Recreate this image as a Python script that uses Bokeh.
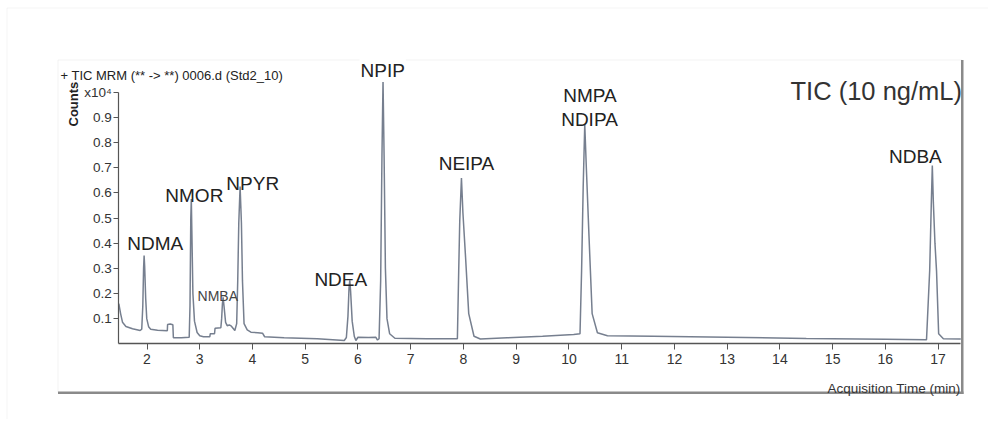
import math
from bokeh.plotting import figure
from bokeh.models import Range1d, FixedTicker, Label, BoxAnnotation
from bokeh.embed import file_html
from bokeh.resources import INLINE

# ---------------- data (counts in units of x10^4) ----------------
time_min = [1.465, 1.50, 1.535, 1.60, 1.725, 1.87, 1.90, 1.92, 1.935, 1.945, 1.955, 1.975,
            1.995, 2.03, 2.07, 2.20, 2.385, 2.39, 2.44, 2.49, 2.50, 2.65, 2.80, 2.815,
            2.83, 2.84, 2.85, 2.87, 2.90, 2.95, 3.00, 3.07, 3.19, 3.20, 3.28, 3.29,
            3.40, 3.415, 3.43, 3.443, 3.46, 3.49, 3.52, 3.56, 3.60, 3.665, 3.70, 3.72,
            3.74, 3.765, 3.79, 3.81, 3.84, 3.90, 3.97, 4.10, 4.19, 4.23, 4.60, 5.23,
            5.74, 5.78, 5.81, 5.83, 5.845, 5.86, 5.89, 5.93, 5.96, 6.00, 6.20, 6.34,
            6.37, 6.40, 6.43, 6.455, 6.475, 6.495, 6.52, 6.55, 6.60, 6.70, 7.30, 7.885,
            7.91, 7.93, 7.962, 7.99, 8.04, 8.10, 8.20, 8.32, 8.83, 9.50, 10.09, 10.21,
            10.24, 10.27, 10.30, 10.33, 10.38, 10.44, 10.54, 10.73, 11.60, 13.00, 14.50, 16.00,
            16.78, 16.84, 16.87, 16.89, 16.91, 16.94, 16.97, 17.01, 17.10, 17.43]
counts = [0.160, 0.119, 0.086, 0.069, 0.060, 0.053, 0.058, 0.150, 0.300, 0.351, 0.310, 0.180,
          0.100, 0.068, 0.058, 0.054, 0.052, 0.077, 0.079, 0.076, 0.024, 0.024, 0.026, 0.150,
          0.500, 0.575, 0.450, 0.200, 0.090, 0.045, 0.032, 0.028, 0.028, 0.040, 0.040, 0.062,
          0.064, 0.100, 0.160, 0.185, 0.150, 0.085, 0.072, 0.075, 0.070, 0.053, 0.080, 0.250,
          0.480, 0.625, 0.480, 0.250, 0.080, 0.055, 0.046, 0.044, 0.042, 0.028, 0.024, 0.020,
          0.013, 0.025, 0.110, 0.220, 0.252, 0.210, 0.090, 0.030, 0.013, 0.026, 0.025, 0.026,
          0.015, 0.020, 0.250, 0.750, 1.047, 0.750, 0.300, 0.100, 0.040, 0.022, 0.020, 0.020,
          0.290, 0.490, 0.659, 0.520, 0.344, 0.120, 0.030, 0.019, 0.024, 0.030, 0.037, 0.040,
          0.290, 0.620, 0.873, 0.700, 0.430, 0.120, 0.044, 0.032, 0.030, 0.026, 0.021, 0.018,
          0.016, 0.290, 0.550, 0.709, 0.560, 0.400, 0.290, 0.040, 0.020, 0.019]

peak_names = ["NDMA", "NMOR", "NMBA", "NPYR", "NDEA", "NPIP", "NEIPA", "NMPA", "NDIPA", "NDBA"]
peak_label_t = [2.157, 2.897, 3.342, 4.005, 5.674, 6.468, 8.057, 10.40, 10.39, 16.568]
peak_label_v = [0.399, 0.590, 0.188, 0.636, 0.256, 1.086, 0.715, 0.987, 0.890, 0.744]

x_ticks = list(range(2, 18))
y_ticks = [0.1, 0.2, 0.3, 0.4, 0.5, 0.6, 0.7, 0.8, 0.9, 1.0]
y_top_label = "x10\u2074"
x_span = (1.465, 17.43)
y_span = (0.0, 1.0)

title_text = "+ TIC MRM (** -> **) 0006.d (Std2_10)"
y_label_text = "Counts"
x_label_text = "Acquisition Time (min)"
note_text = "TIC (10 ng/mL)"

# ---------------- geometry (canvas px) ----------------
W, H = 988, 419
AX_LEFT, AX_BOTTOM = 118.3, 343.3      # canvas position of the axes corner
PX_PER_MIN = 52.74
PX_PER_UNIT = 251.6
X0 = x_span[0] - AX_LEFT / PX_PER_MIN
X1 = x_span[0] + (W - AX_LEFT) / PX_PER_MIN
Y1 = AX_BOTTOM / PX_PER_UNIT
Y0 = -(H - AX_BOTTOM) / PX_PER_UNIT

SANS = "Liberation Sans, Arial, sans-serif"

p = figure(width=W, height=H, x_range=Range1d(X0, X1), y_range=Range1d(Y0, Y1),
           output_backend="svg", toolbar_location=None, min_border=0)
p.grid.visible = False
p.outline_line_color = None
p.background_fill_color = "white"
p.border_fill_color = "white"

xa = p.xaxis[0]
xa.fixed_location = y_span[0]
xa.bounds = x_span
xa.ticker = FixedTicker(ticks=x_ticks)
xa.axis_line_color = "#555555"
xa.axis_line_width = 1.5
xa.major_tick_line_color = "#555555"
xa.major_tick_out = 6
xa.major_tick_in = 0
xa.minor_tick_out = 0
xa.major_label_standoff = 4
xa.major_label_text_font = SANS
xa.major_label_text_font_size = "14px"
xa.major_label_text_color = "#333333"

ya = p.yaxis[0]
ya.fixed_location = x_span[0]
ya.bounds = y_span
ya.ticker = FixedTicker(ticks=y_ticks)
ya.axis_line_color = "#555555"
ya.axis_line_width = 1.2
ya.major_tick_line_color = "#555555"
ya.major_tick_out = 5
ya.major_tick_in = 0
ya.minor_tick_out = 0
ya.major_label_standoff = 2
ya.major_label_text_font = SANS
ya.major_label_text_font_size = "13.5px"
ya.major_label_text_color = "#333333"
ya.major_label_overrides = {1: y_top_label}

# chromatogram
p.line(time_min, counts, line_color="#767f8f", line_width=1.5)

# frames / box (canvas units)
def cbox(l, r, t, b, **kw):
    return BoxAnnotation(left=l, right=r, top=t, bottom=b,
                         left_units="canvas", right_units="canvas",
                         top_units="canvas", bottom_units="canvas", **kw)

p.add_layout(cbox(6.5, 1200, 7.5, 600, fill_alpha=0, line_color="#d9d9d9", line_width=1))
p.add_layout(cbox(57.5, 961.5, 59.5, 392, fill_alpha=0, line_color="#d4d4d4", line_width=1))
p.add_layout(cbox(960.5, 963, 59.5, 393.5, fill_color="#8a8a8a", fill_alpha=1, line_alpha=0))
p.add_layout(cbox(57.5, 963, 391, 393.5, fill_color="#8a8a8a", fill_alpha=1, line_alpha=0))

# peak labels
for name, t, v in zip(peak_names, peak_label_t, peak_label_v):
    small = name == "NMBA"
    lab = Label(x=t, y=v, text=name, text_align="center", text_baseline="alphabetic",
                text_font=SANS, text_font_size="14px" if small else "19px",
                text_color="#444444" if small else "#222222")
    if name == "NPIP":
        lab.background_fill_color = "white"
        lab.padding = 1
    p.add_layout(lab)

def clabel(x, y, text, **kw):
    return Label(x=x, y=y, text=text, x_units="canvas", y_units="canvas", **kw)

p.add_layout(clabel(961.5, 90.5, note_text, text_align="right", text_baseline="alphabetic",
                    text_font=SANS, text_font_size="25.5px", text_color="#333333"))
p.add_layout(clabel(60, 75, title_text, text_align="left", text_baseline="alphabetic",
                    text_font=SANS, text_font_size="13px", text_color="#222222"))
p.add_layout(clabel(73, 126, y_label_text, angle=math.pi / 2, text_align="left",
                    text_baseline="alphabetic", text_font=SANS, text_font_size="13px",
                    text_font_style="bold", text_color="#222222"))
p.add_layout(clabel(960, 388, x_label_text, text_align="right", text_baseline="alphabetic",
                    text_font=SANS, text_font_size="13.5px", text_color="#333333"))

open("out.html", "w").write(file_html(p, INLINE))
